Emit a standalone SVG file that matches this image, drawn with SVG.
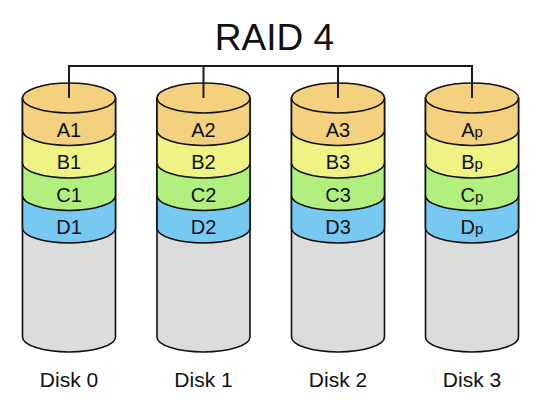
<svg xmlns="http://www.w3.org/2000/svg" width="553" height="400" viewBox="0 0 553 400">
<style>
  text { font-family: "Liberation Sans", Arial, Helvetica, sans-serif; fill: #111; text-anchor: middle; }
  .title { font-size: 37px; }
  .lbl { font-size: 20px; }
  .disk { font-size: 21px; }
  .sub { font-size: 15px; }
  .cyl path, .cyl ellipse { stroke: #111; stroke-width: 1.6; stroke-linejoin: round; }
  .conn { fill: none; stroke: #1a1a1a; stroke-width: 2; }
</style>
<defs>
  <g id="cyl" class="cyl">
    <path d="M -46.5 98 V 337 A 46.5 15 0 0 0 46.5 337 V 98 Z" fill="#dcdcdc"/>
    <path d="M -46.5 195.5 V 228 A 46.5 15 0 0 0 46.5 228 V 195.5 Z" fill="#78c9f1"/>
    <path d="M -46.5 163 V 195.5 A 46.5 15 0 0 0 46.5 195.5 V 163 Z" fill="#b1f07f"/>
    <path d="M -46.5 130.5 V 163 A 46.5 15 0 0 0 46.5 163 V 130.5 Z" fill="#eef383"/>
    <path d="M -46.5 98 V 130.5 A 46.5 15 0 0 0 46.5 130.5 V 98 Z" fill="#f4d17f"/>
    <ellipse cx="0" cy="98" rx="46.5" ry="15" fill="#f4d17f"/>
  </g>
</defs>
<rect width="553" height="400" fill="#ffffff"/>
<text class="title" x="274.5" y="50">RAID 4</text>

<g id="disk0" transform="translate(69,0)">
  <use href="#cyl"/>
  <text class="lbl" x="0" y="136.5">A1</text>
  <text class="lbl" x="0" y="169">B1</text>
  <text class="lbl" x="0" y="201.5">C1</text>
  <text class="lbl" x="0" y="234">D1</text>
  <text class="disk" x="0" y="387">Disk 0</text>
</g>
<g id="disk1" transform="translate(203.5,0)">
  <use href="#cyl"/>
  <text class="lbl" x="0" y="136.5">A2</text>
  <text class="lbl" x="0" y="169">B2</text>
  <text class="lbl" x="0" y="201.5">C2</text>
  <text class="lbl" x="0" y="234">D2</text>
  <text class="disk" x="0" y="387">Disk 1</text>
</g>
<g id="disk2" transform="translate(338,0)">
  <use href="#cyl"/>
  <text class="lbl" x="0" y="136.5">A3</text>
  <text class="lbl" x="0" y="169">B3</text>
  <text class="lbl" x="0" y="201.5">C3</text>
  <text class="lbl" x="0" y="234">D3</text>
  <text class="disk" x="0" y="387">Disk 2</text>
</g>
<g id="disk3" transform="translate(472,0)">
  <use href="#cyl"/>
  <text class="lbl" x="0" y="136.5">A<tspan class="sub">p</tspan></text>
  <text class="lbl" x="0" y="169">B<tspan class="sub">p</tspan></text>
  <text class="lbl" x="0" y="201.5">C<tspan class="sub">p</tspan></text>
  <text class="lbl" x="0" y="234">D<tspan class="sub">p</tspan></text>
  <text class="disk" x="0" y="387">Disk 3</text>
</g>

<g id="connectors" class="conn">
  <path d="M 69 98 V 66 H 472 V 98"/>
  <path d="M 203.5 66 V 98"/>
  <path d="M 338 66 V 98"/>
</g>
</svg>
